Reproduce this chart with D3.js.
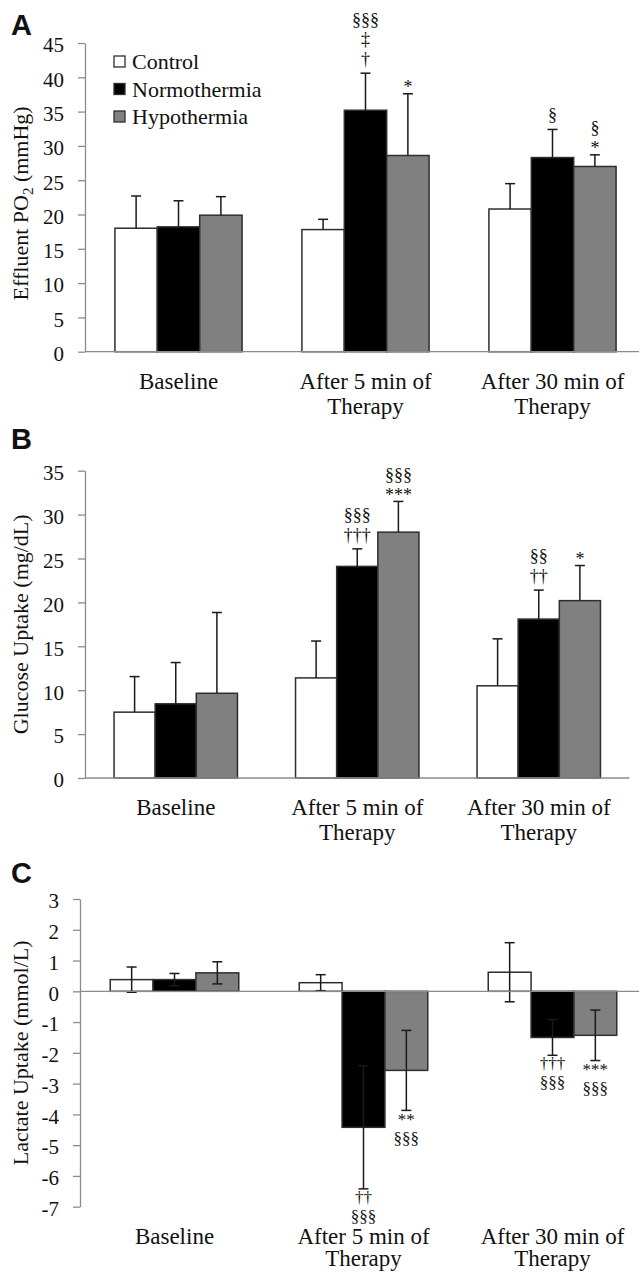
<!DOCTYPE html>
<html>
<head>
<meta charset="utf-8">
<script src="https://cdn.jsdelivr.net/npm/d3@7"></script>
<style>
  body { margin: 0; background: #fff; }
  svg text { font-family: "Liberation Serif", "Times New Roman", serif; fill: #111; }
</style>
</head>
<body>
<svg id="chart" width="639" height="1272"></svg>
<script>
// categories and series
var categories = [["Baseline"], ["After 5 min of", "Therapy"], ["After 30 min of", "Therapy"]];
var groups = ["Control", "Normothermia", "Hypothermia"];

// A - effluent PO2 (mmHg), mean and SD
var po2Control = [18.0, 17.8, 20.8];
var po2ControlSd = [4.7, 1.5, 3.7];
var po2Normo = [18.2, 35.2, 28.3];
var po2NormoSd = [3.8, 5.4, 4.1];
var po2Hypo = [19.9, 28.6, 27.0];
var po2HypoSd = [2.7, 9.0, 1.7];
var po2Ticks = [0, 5, 10, 15, 20, 25, 30, 35, 40, 45];
// significance marks, listed from the error bar outwards
var po2ControlMarks = [[], [], []];
var po2NormoMarks = [[], ["†", "‡", "§§§"], ["§"]];
var po2HypoMarks = [[], ["*"], ["*", "§"]];

// B - glucose uptake (mg/dL)
var gluControl = [7.5, 11.4, 10.5];
var gluControlSd = [4.05, 4.2, 5.35];
var gluNormo = [8.45, 24.1, 18.1];
var gluNormoSd = [4.7, 2.0, 3.3];
var gluHypo = [9.65, 28.0, 20.2];
var gluHypoSd = [9.2, 3.5, 4.0];
var gluTicks = [0, 5, 10, 15, 20, 25, 30, 35];
var gluControlMarks = [[], [], []];
var gluNormoMarks = [[], ["†††", "§§§"], ["††", "§§"]];
var gluHypoMarks = [[], ["***", "§§§"], ["*"]];

// C - lactate uptake (mmol/L)
var lacControl = [0.38, 0.28, 0.62];
var lacControlSd = [0.41, 0.26, 0.96];
var lacNormo = [0.38, -4.42, -1.5];
var lacNormoSd = [0.2, 2.0, 0.58];
var lacHypo = [0.6, -2.57, -1.43];
var lacHypoSd = [0.36, 1.3, 0.82];
var lacTicks = [3, 2, 1, 0, -1, -2, -3, -4, -5, -6, -7];
var lacControlMarks = [[], [], []];
var lacNormoMarks = [[], ["††", "§§§"], ["†††", "§§§"]];
var lacHypoMarks = [[], ["**", "§§§"], ["***", "§§§"]];

// styles
var axisColor = "#8c8c8c";
var barStroke = "#2e2e2e";
var fills = { Control: "#ffffff", Normothermia: "#000000", Hypothermia: "#808080" };

var svg = d3.select("#chart");

// rough glyph metrics (in em) for the mark symbols
function isStar(s) { return s.charAt(0) === "*"; }
function glyphHalf(s, size) { return (isStar(s) ? 0.24 : 0.44) * size; }
function glyphBase(s, size) { return (isStar(s) ? 0.5 : 0.275) * size; }

function drawPanel(p) {
  var g = svg.append("g");

  var x = d3.scaleBand()
      .domain(d3.range(categories.length))
      .range(p.xRange)
      .paddingInner(0.32)
      .paddingOuter(0.16);
  var xs = d3.scaleBand().domain(groups).range([0, x.bandwidth()]);
  var y = d3.scaleLinear().domain(p.domain).range(p.yRange);

  var series = groups.map(function(name, k) {
    return { name: name, values: p.values[k], sd: p.sd[k], marks: p.marks[k] };
  });

  var bars = [];
  series.forEach(function(s) {
    s.values.forEach(function(v, i) {
      bars.push({ name: s.name, cat: i, v: v, sd: s.sd[i], marks: s.marks[i] });
    });
  });

  // bars
  g.selectAll("rect.bar")
    .data(bars)
    .join("rect")
      .attr("class", "bar")
      .attr("x", function(d) { return x(d.cat) + xs(d.name); })
      .attr("y", function(d) { return y(Math.max(0, d.v)); })
      .attr("width", xs.bandwidth())
      .attr("height", function(d) { return Math.abs(y(d.v) - y(0)); })
      .attr("fill", function(d) { return fills[d.name]; })
      .attr("stroke", barStroke)
      .attr("stroke-width", 1.5);

  // error bars
  var cap = 5;
  var eb = g.selectAll("g.err")
    .data(bars)
    .join("g")
      .attr("class", "err")
      .attr("transform", function(d) { return "translate(" + (x(d.cat) + xs(d.name) + xs.bandwidth() / 2) + ",0)"; })
      .attr("stroke", "#1a1a1a")
      .attr("stroke-width", 1.5);
  eb.append("line")
      .attr("y1", function(d) { return y(p.both ? d.v - d.sd : d.v); })
      .attr("y2", function(d) { return y(d.v + d.sd); });
  eb.append("line")
      .attr("x1", -cap).attr("x2", cap)
      .attr("y1", function(d) { return y(d.v + d.sd); })
      .attr("y2", function(d) { return y(d.v + d.sd); });
  if (p.both) {
    eb.append("line")
        .attr("x1", -cap).attr("x2", cap)
        .attr("y1", function(d) { return y(d.v - d.sd); })
        .attr("y2", function(d) { return y(d.v - d.sd); });
  }

  // significance marks, stacked away from the error bar end
  var ms = p.markSize;
  bars.forEach(function(d) {
    if (!d.marks.length) return;
    var dir = d.v >= 0 ? -1 : 1;
    var edge = d.v >= 0 ? y(d.v + d.sd) : y(d.v - (p.both ? d.sd : 0));
    var cx = x(d.cat) + xs(d.name) + xs.bandwidth() / 2;
    var c = edge + dir * (p.firstGap + glyphHalf(d.marks[0], ms));
    var prevB = null;
    var t = g.append("text")
        .attr("text-anchor", "middle")
        .attr("font-size", ms);
    d.marks.forEach(function(m, j) {
      if (j > 0) c += dir * (glyphHalf(d.marks[j - 1], ms) + p.markGap + glyphHalf(m, ms));
      var b = c + glyphBase(m, ms);
      // keep line boxes from running into each other
      if (prevB !== null && dir * (b - prevB) < 1.1 * ms) {
        b = prevB + dir * 1.1 * ms;
        c = b - glyphBase(m, ms);
      }
      prevB = b;
      t.append("tspan")
          .attr("x", cx)
          .attr("y", b)
          .text(m);
    });
  });

  // y axis
  var yAxis = g.append("g")
      .attr("transform", "translate(" + p.xRange[0] + ",0)")
      .call(d3.axisLeft(y)
        .tickValues(p.ticks)
        .tickSize(7)
        .tickSizeOuter(0)
        .tickPadding(14)
        .tickFormat(function(t) { return String(t); }));
  yAxis.attr("font-family", null);
  yAxis.select(".domain").attr("stroke", axisColor).attr("stroke-width", 1.3);
  yAxis.selectAll(".tick line").attr("stroke", axisColor).attr("stroke-width", 1.3);
  yAxis.selectAll(".tick text")
      .attr("font-size", 21)
      .attr("dy", "0.42em")
      .attr("fill", "#111");

  // category axis along zero
  g.append("line")
      .attr("x1", p.xRange[0]).attr("x2", p.xRange[1])
      .attr("y1", y(0)).attr("y2", y(0))
      .attr("stroke", axisColor)
      .attr("stroke-width", 1.3);

  // category labels below the plot
  var cl = g.selectAll("text.cat")
    .data(categories)
    .join("text")
      .attr("class", "cat")
      .attr("text-anchor", "middle")
      .attr("font-size", 23)
      .attr("y", p.yRange[0] + 37);
  cl.selectAll("tspan")
    .data(function(d, i) { return d.map(function(t) { return { t: t, i: i }; }); })
    .join("tspan")
      .attr("x", function(d) { return x(d.i) + x.bandwidth() / 2; })
      .attr("dy", function(d, j) { return j ? p.lineStep : 0; })
      .text(function(d) { return d.t; });

  // y label
  var yl = g.append("text")
      .attr("transform", "translate(28," + ((p.yRange[0] + p.yRange[1]) / 2 + p.labelShift) + ") rotate(-90)")
      .attr("text-anchor", "middle")
      .attr("font-size", 22);
  p.ylabel.forEach(function(part) {
    var ts = yl.append("tspan").text(part.t);
    if (part.sub) ts.attr("font-size", 15).attr("dy", 5);
    if (part.after) ts.attr("dy", -5);
  });

  // panel letter
  svg.append("text")
      .attr("x", 11)
      .attr("y", p.letterY)
      .attr("font-size", 29)
      .attr("font-weight", "bold")
      .style("font-family", '"Liberation Sans", Arial, sans-serif')
      .text(p.letter);

  return { x: x, y: y };
}

drawPanel({
  letter: "A", letterY: 35,
  xRange: [85, 646], yRange: [351.7, 43], domain: [0, 45], ticks: po2Ticks,
  values: [po2Control, po2Normo, po2Hypo],
  sd: [po2ControlSd, po2NormoSd, po2HypoSd],
  marks: [po2ControlMarks, po2NormoMarks, po2HypoMarks],
  both: false, markSize: 18, firstGap: 5, markGap: 4, labelShift: 6, lineStep: 25,
  ylabel: [{ t: "Effluent PO" }, { t: "2", sub: true }, { t: " (mmHg)", after: true }]
});

drawPanel({
  letter: "B", letterY: 449,
  xRange: [85, 629.5], yRange: [778, 470.7], domain: [0, 35], ticks: gluTicks,
  values: [gluControl, gluNormo, gluHypo],
  sd: [gluControlSd, gluNormoSd, gluHypoSd],
  marks: [gluControlMarks, gluNormoMarks, gluHypoMarks],
  both: false, markSize: 18, firstGap: 5, markGap: 4, labelShift: 0, lineStep: 25,
  ylabel: [{ t: "Glucose Uptake (mg/dL)" }]
});

drawPanel({
  letter: "C", letterY: 883,
  xRange: [80, 647], yRange: [1206.7, 899], domain: [-7, 3], ticks: lacTicks,
  values: [lacControl, lacNormo, lacHypo],
  sd: [lacControlSd, lacNormoSd, lacHypoSd],
  marks: [lacControlMarks, lacNormoMarks, lacHypoMarks],
  both: true, markSize: 17, firstGap: 2, markGap: 3, labelShift: 0, lineStep: 22.5,
  ylabel: [{ t: "Lactate Uptake (mmol/L)" }]
});

// legend (panel A)
var legend = svg.append("g")
  .selectAll("g")
  .data(groups)
  .join("g")
    .attr("transform", function(d, i) { return "translate(114," + (62 + i * 27.5) + ")"; });
legend.append("rect")
    .attr("x", 0).attr("y", -6)
    .attr("width", 11).attr("height", 11)
    .attr("fill", function(d) { return fills[d]; })
    .attr("stroke", barStroke)
    .attr("stroke-width", 1.3);
legend.append("text")
    .attr("x", 18)
    .attr("y", 7)
    .attr("font-size", 22)
    .text(function(d) { return d; });
</script>
</body>
</html>
